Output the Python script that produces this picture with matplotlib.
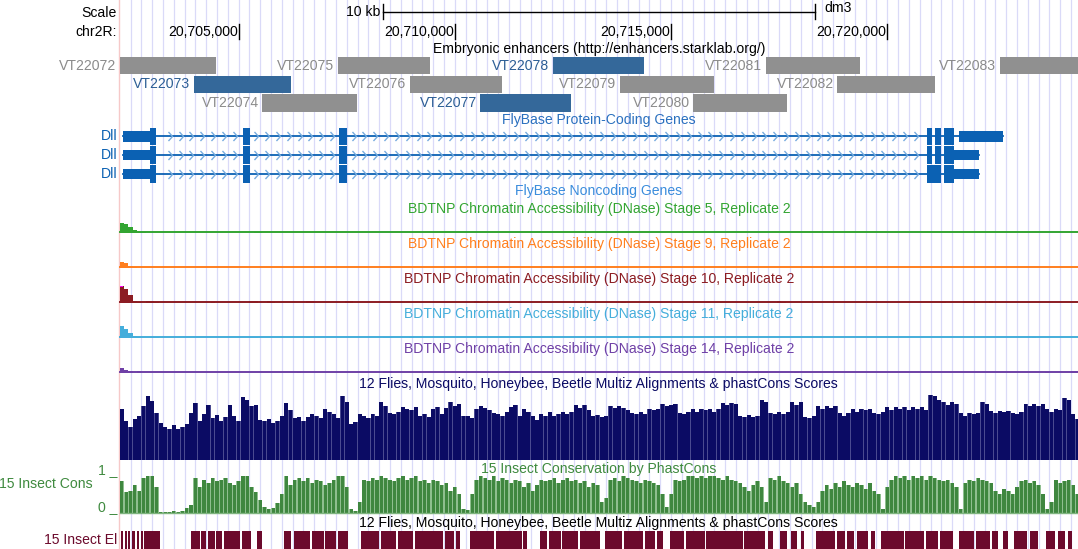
import numpy as np
import matplotlib
matplotlib.use("Agg")
import matplotlib.pyplot as plt
from matplotlib.path import Path
from matplotlib.transforms import blended_transform_factory

plt.rcParams['font.family'] = ['Liberation Sans', 'DejaVu Sans']

# ---------------------------------------------------------------- data
CHROM = "chr2R"
VIEW_START, VIEW_END = 20702250, 20724410
pos_ticks = [20705000, 20710000, 20715000, 20720000]
pos_tick_labels = ["20,705,000", "20,710,000", "20,715,000", "20,720,000"]

enh_names = ["VT22072", "VT22073", "VT22074", "VT22075", "VT22076", "VT22077",
             "VT22078", "VT22079", "VT22080", "VT22081", "VT22082", "VT22083"]
enh_start = [20702100, 20703957, 20705550, 20707287, 20708959, 20710591,
             20712270, 20713819, 20715509, 20717190, 20718841, 20722604]
enh_end = [20704475, 20706219, 20707740, 20709435, 20711084, 20712684,
           20714374, 20715993, 20717683, 20719364, 20721094, 20724800]
enh_row = [0, 1, 2, 0, 1, 2, 0, 1, 2, 0, 1, 0]
enh_active = [False, True, False, False, False, True,
              True, False, False, False, False, False]

gene_names = ["Dll", "Dll", "Dll"]
tx_exons = [
    [(20702325, 20703081), (20705104, 20705257), (20707326, 20707502),
     (20720920, 20721038), (20721094, 20721253), (20721302, 20721547),
     (20721667, 20722682)],
    [(20702325, 20703081), (20705104, 20705257), (20707326, 20707502),
     (20720920, 20721038), (20721094, 20721253), (20721302, 20722111)],
    [(20702325, 20703081), (20705104, 20705257), (20707326, 20707502),
     (20720920, 20721253), (20721302, 20722111)],
]
cds_start, cds_end = 20702947, 20721547

dnase_stages = ["Stage 5", "Stage 9", "Stage 10", "Stage 11", "Stage 14"]
dnase_signal = [
    [(20702250, 10), (20702350, 8.5), (20702450, 5.5), (20702550, 2.5),
     (20702650, 1.0), (20702750, 0.6), (20705350, 1.0), (20705450, 1.0)],
    [(20702250, 6), (20702350, 4.5), (20702450, 2), (20702550, 0.6)],
    [(20702250, 19), (20702350, 14), (20702450, 8), (20702550, 2),
     (20702650, 0.5), (20702850, 1.5), (20702950, 1.5), (20703050, 1.0),
     (20704350, 1), (20705250, 1.5), (20705350, 1.5), (20705650, 1.5),
     (20705750, 1.0), (20706550, 1.5), (20706650, 1.5), (20707450, 2),
     (20707550, 1.5), (20710450, 1.5), (20710550, 1.0), (20711450, 1),
     (20713850, 1), (20717450, 1.5), (20717550, 1), (20721250, 0.5),
     (20721750, 2), (20721850, 2), (20721950, 2), (20722050, 1.5),
     (20722350, 1.5)],
    [(20702250, 12), (20702350, 9), (20702450, 5), (20702550, 1.5),
     (20702650, 0.8), (20702950, 1), (20703050, 0.8), (20705250, 1),
     (20705350, 0.8), (20706550, 0.5), (20708350, 1), (20708450, 0.8),
     (20708950, 0.5), (20713750, 1), (20723350, 1)],
    [(20702250, 4.5), (20702350, 3), (20702450, 1.5), (20702650, 2),
     (20706350, 1), (20708350, 1.5), (20708450, 1.2), (20711150, 2),
     (20711250, 2), (20711350, 1.5), (20715750, 1), (20716350, 1.5),
     (20716450, 1), (20716650, 1), (20716950, 2), (20717050, 2),
     (20717150, 1.5), (20717850, 1), (20723650, 1), (20724250, 2),
     (20724350, 1.5)],
]
dnase_colors = ["#33a532", "#ff7f1e", "#8c1c22", "#45aedb", "#6f40a6"]
dnase_max = 17

# multiz alignment score (percent of track range), 100 bp windows from VIEW_START
multiz_score = [
    76, 58, 50, 61, 66, 80, 95, 88, 70, 55,
    50, 46, 52, 47, 50, 53, 70, 85, 58, 68,
    82, 62, 67, 58, 64, 82, 66, 58, 94, 90,
    80, 82, 60, 58, 61, 55, 58, 66, 85, 74,
    62, 64, 58, 64, 68, 66, 62, 76, 72, 68,
    63, 95, 86, 54, 56, 68, 65, 63, 68, 66,
    86, 80, 70, 68, 71, 79, 76, 74, 79, 66,
    68, 64, 76, 79, 68, 78, 86, 80, 83, 65,
    66, 62, 76, 80, 78, 74, 70, 68, 66, 71,
    79, 82, 66, 76, 71, 66, 60, 68, 66, 71,
    66, 68, 71, 68, 71, 82, 78, 82, 74, 65,
    67, 64, 66, 80, 78, 80, 77, 74, 70, 68,
    71, 68, 76, 74, 76, 83, 80, 82, 83, 70,
    68, 71, 76, 72, 76, 74, 76, 72, 76, 85,
    82, 85, 83, 66, 64, 67, 64, 66, 89, 86,
    70, 68, 71, 69, 71, 86, 82, 86, 64, 62,
    65, 80, 76, 80, 77, 80, 70, 66, 70, 76,
    72, 76, 74, 76, 70, 68, 71, 79, 75, 79,
    76, 79, 74, 79, 76, 79, 75, 97, 95, 89,
    86, 82, 86, 84, 70, 66, 70, 68, 70, 86,
    84, 73, 70, 73, 71, 73, 70, 68, 71, 83,
    80, 83, 81, 83, 76, 72, 76, 74, 92, 90,
    68, 61, 60,
]

# phastCons conservation (0..1), 100 bp windows from VIEW_START
phastcons = [
    .85, .55, .60, .75, .60, .95, 1.0, 1.0, .70, .02,
    .02, .02, .03, .02, .03, .12, .20, .95, .70, .90,
    .80, .95, .85, .90, .95, .80, .75, .85, 1.0, 1.0,
    .70, .55, .35, .15, .10, .12, .25, .50, 1.0, .75,
    .90, .95, .85, .95, .80, .90, .85, .75, .80, .90,
    1.0, 1.0, .70, .10, .05, .30, .90, .85, .95, .90,
    1.0, .95, .90, .85, .95, 1.0, .90, .95, 1.0, .85,
    .90, .80, .90, .85, .75, .80, .60, .70, .50, .10,
    .08, .50, .90, 1.0, .95, .90, 1.0, .85, .95, .90,
    .80, .90, .85, .70, .80, .60, .75, .90, .85, .90,
    .95, .80, .90, .95, .85, .90, .80, .85, .70, .80,
    .75, .30, .40, .90, .95, .85, 1.0, .95, .90, .85,
    .80, .90, .85, .80, .75, .50, .15, .50, .90, .85,
    .90, 1.0, 1.0, .95, 1.0, .95, 1.0, 1.0, .95, .90,
    1.0, .90, .85, .80, .70, .60, .75, .85, .70, .30,
    .95, .90, 1.0, .85, .80, .70, .80, .50, .30, .20,
    .15, .30, .60, .75, .65, .80, .70, .85, .75, .70,
    .80, .75, .65, .80, .60, .50, .10, .70, .90, 1.0,
    .95, 1.0, .90, 1.0, .95, 1.0, .90, 1.0, .95, .90,
    .85, .90, .80, .70, .10, .80, .90, .85, .95, .90,
    .85, .80, .60, .50, .65, .60, .50, .70, .85, .90,
    .80, .85, .75, .50, .10, .30, .90, .80, .85, .90,
    .75, .50, .20,
]

cons_el_start = [
    20702269, 20702366, 20702445, 20702533, 20702644, 20702732, 20702810,
    20703902, 20704140, 20704283, 20704484, 20704658, 20705072, 20705414,
    20706052, 20706290, 20706688, 20707007, 20707287,
    20707828, 20708281, 20708679, 20709079, 20709770, 20710034,
    20710351, 20710950, 20711586,
    20711969, 20712168, 20712485, 20712883,
    20713477, 20713914, 20714390, 20714668,
    20714985, 20715341, 20715817, 20716691, 20717246,
    20717523, 20717762, 20718000,
    20718356, 20718832, 20719071, 20719309, 20719628,
    20719866, 20720421, 20720897, 20721214,
    20721651, 20722047, 20722428, 20722682,
    20722920, 20723300, 20723674, 20723952, 20724174,
]
cons_el_end = [
    20702325, 20702413, 20702494, 20702605, 20702699, 20702780, 20703185,
    20704101, 20704244, 20704459, 20704619, 20705042, 20705296, 20705534,
    20706212, 20706649, 20706968, 20707245, 20707525,
    20708242, 20708640, 20709037, 20709715, 20709979, 20710113,
    20710908, 20711546, 20711667,
    20712129, 20712446, 20712841, 20713357,
    20713875, 20714351, 20714629, 20714811,
    20715302, 20715778, 20716652, 20717167, 20717366,
    20717683, 20717921, 20718079,
    20718793, 20719031, 20719230, 20719547, 20719706,
    20720382, 20720856, 20721175, 20721531,
    20722007, 20722366, 20722562, 20722800,
    20723237, 20723476, 20723871, 20724109, 20724269,
]

# ---------------------------------------------------------------- layout
W, H = 1078, 549
DATA_LEFT = 119.7                        # pixel column where the view begins
BP_PER_PX = (VIEW_END - VIEW_START) / (W - DATA_LEFT)
LABEL_X = 117.0 / W                      # right edge of the left label column
FS = 10.1
MID = (VIEW_START + VIEW_END) / 2

fig = plt.figure(figsize=(W / 100, H / 100), dpi=100)
bg = fig.add_axes([0, 0, 1, 1])
bg.set_xlim(VIEW_START - DATA_LEFT * BP_PER_PX, VIEW_END)
bg.set_ylim(H, 0)
bg.axis('off')
lbl = blended_transform_factory(bg.transAxes, bg.transData)


def px(n):
    """width of n screen pixels in base pairs"""
    return n * BP_PER_PX


def track_axes(top, bottom, ymax):
    ax = fig.add_axes([DATA_LEFT / W, 1 - bottom / H,
                       (W - DATA_LEFT) / W, (bottom - top) / H])
    ax.set_xlim(VIEW_START, VIEW_END)
    ax.set_ylim(0, ymax)
    ax.axis('off')
    ax.patch.set_alpha(0)
    return ax


def title(y, text, color):
    bg.text(MID, y, text, ha='center', va='center', fontsize=FS, color=color)


# base-position guide lines and the left edge marker
for g in range(20702500, VIEW_END, 250):
    bg.axvline(g, color='#dadaf8', lw=0.9, zorder=0)
bg.axvline(VIEW_START - px(0.9), color='#f6c9c9', lw=1.0, zorder=0)

# ---------------------------------------------------------------- ruler
bg.text(LABEL_X, 13, "Scale", transform=lbl, ha='right', va='center', fontsize=FS)
bg.text(LABEL_X, 32.5, CHROM + ":", transform=lbl, ha='right', va='center', fontsize=FS)
sb0, sb1 = MID - 5000, MID + 5000
bg.plot([sb0, sb1], [12, 12], color='black', lw=1.0)
bg.plot([sb0, sb0], [4, 19], color='black', lw=1.0)
bg.plot([sb1, sb1], [4, 19], color='black', lw=1.0)
bg.text(sb0 - px(2), 12, "10 kb", ha='right', va='center', fontsize=FS)
bg.text(sb1 + px(9), 8.5, "dm3", ha='left', va='center', fontsize=FS)
for t, s in zip(pos_ticks, pos_tick_labels):
    bg.plot([t, t], [24, 38.5], color='black', lw=1.0)
    bg.text(t - px(1), 32.5, s, ha='right', va='center', fontsize=FS)

# ---------------------------------------------------------------- enhancers
title(49.5, "Embryonic enhancers (http://enhancers.starklab.org/)", 'black')
row_y = [65.5, 84.2, 102.9]
for n, s, e, r, act in zip(enh_names, enh_start, enh_end, enh_row, enh_active):
    s_vis = max(s, VIEW_START)
    bar_c = '#34689a' if act else '#909090'
    txt_c = '#2c5e95' if act else '#8b8b8b'
    bg.barh(row_y[r], min(e, VIEW_END) - s_vis, left=s_vis, height=17.4,
            color=bar_c, linewidth=0)
    bg.text(s_vis - px(3.5), row_y[r], n, ha='right', va='center',
            fontsize=FS, color=txt_c)

# ---------------------------------------------------------------- genes
GENE_C = '#0b61b3'
title(120, "FlyBase Protein-Coding Genes", '#2a70bf')
chev = Path([(-0.45, 1.0), (0.45, 0.0), (-0.45, -1.0)],
            [Path.MOVETO, Path.LINETO, Path.LINETO])
gene_y = [136.4, 155.2, 174.0]
for name, exons, y in zip(gene_names, tx_exons, gene_y):
    bg.plot([exons[0][0], exons[-1][1]], [y, y], color=GENE_C, lw=1.3, zorder=3)
    # strand chevrons inside introns
    marks = []
    for (a0, a1), (b0, b1) in zip(exons[:-1], exons[1:]):
        for g in range(20702410, VIEW_END, 250):
            if a1 + px(4) < g < b0 - px(4):
                marks.append(g)
    bg.plot(marks, [y] * len(marks), ls='none', marker=chev, ms=6.5,
            mfc='none', mec='#78acdf', mew=1.0, zorder=3)
    for s, e in exons:
        segs = [(s, min(e, cds_start), 10.2), (max(s, cds_start), min(e, cds_end), 17.6),
                (max(s, cds_end), e, 10.2)]
        for a, b, h in segs:
            if b > a:
                bg.barh(y, b - a, left=a, height=h, color=GENE_C, linewidth=0, zorder=4)
    bg.text(LABEL_X, y, name, transform=lbl, ha='right', va='center',
            fontsize=FS, color=GENE_C)

title(190.5, "FlyBase Noncoding Genes", '#3b8ddc')

# ---------------------------------------------------------------- DNase tracks
dn_title_y = [209, 244, 279, 314, 349]
dn_base_y = [232.5, 267.5, 302.5, 337.5, 372.5]
for stage, sig, col, ty, by in zip(dnase_stages, dnase_signal, dnase_colors,
                                   dn_title_y, dn_base_y):
    title(ty, "BDTNP Chromatin Accessibility (DNase) %s, Replicate 2" % stage, col)
    ax = track_axes(by - 17, by, dnase_max)
    xs = [p for p, v in sig]
    vs = [v for p, v in sig]
    ax.bar(xs, vs, width=100, align='edge', color=col, linewidth=0)
    over = [p for p, v in sig if v > dnase_max]
    if over:
        ax.bar(over, 1.3, width=70, bottom=dnase_max - 1.3, align='edge',
               color='#ff00ff', linewidth=0)
    ax.axhline(0.4, color=col, lw=1.4, clip_on=False)

# ---------------------------------------------------------------- multiz
MZ_C = '#0b0b64'
title(384, "12 Flies, Mosquito, Honeybee, Beetle Multiz Alignments & phastCons Scores", MZ_C)
ax = track_axes(393, 460, 100)
mz_x = VIEW_START + 100 * np.arange(len(multiz_score))
# a lighter full-window bar behind a slightly narrower dark core
ax.bar(mz_x, multiz_score, width=100, align='edge', color='#4a4a90', linewidth=0)
ax.bar(mz_x + 6, multiz_score, width=86, align='edge', color=MZ_C, linewidth=0)

# ---------------------------------------------------------------- phastCons
PC_C = '#3f873f'
title(468.5, "15 Insect Conservation by PhastCons", '#3f8a3f')
ax = track_axes(476, 512.5, 1.0)
pc_x = VIEW_START + 100 * np.arange(len(phastcons))
ax.bar(pc_x, phastcons, width=100, align='edge', color='#8fbf8f', linewidth=0)
ax.bar(pc_x + 14, phastcons, width=72, align='edge', color=PC_C, linewidth=0)
ax.axhline(0, color='#7fb47f', lw=1.0, clip_on=False)
bg.text(93 / W, 483.5, "15 Insect Cons", transform=lbl, ha='right', va='center',
        fontsize=FS, color='#3f8a3f')
bg.text(LABEL_X, 470, "1 _", transform=lbl, ha='right', va='center',
        fontsize=FS, color='#3f8a3f')
bg.text(LABEL_X, 507.5, "0 _", transform=lbl, ha='right', va='center',
        fontsize=FS, color='#3f8a3f')

# ---------------------------------------------------------------- conserved elements
EL_C = '#6c0a2c'
title(522.5, "12 Flies, Mosquito, Honeybee, Beetle Multiz Alignments & phastCons Scores", 'black')
ax = track_axes(531, 549, 1.0)
ax.bar(cons_el_start, 1.0, width=np.array(cons_el_end) - np.array(cons_el_start),
       align='edge', color=EL_C, linewidth=0)
bg.text(LABEL_X, 540.5, "15 Insect El", transform=lbl, ha='right', va='center',
        fontsize=FS, color=EL_C)

fig.savefig("out.png", dpi=100)
